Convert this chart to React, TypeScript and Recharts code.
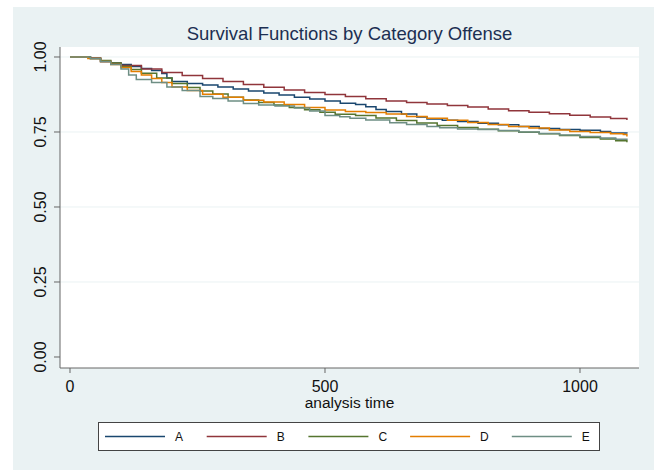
import React from 'react';
import { LineChart, Line, XAxis, YAxis, CartesianGrid } from 'recharts';

// ---- data ----
const seriesNames = ['A', 'B', 'C', 'D', 'E'];
const seriesColors = ['#1a476f', '#90353b', '#55752f', '#e37e00', '#6e8e84'];

const timesA = [0, 40, 60, 80, 100, 120, 140, 160, 180, 190, 200, 230, 260, 290, 320, 350, 380, 410, 440, 470, 500, 530, 560, 580, 600, 620, 650, 680, 700, 730, 760, 800, 840, 880, 920, 960, 1000, 1040, 1060, 1092];
const survA = [1, 0.995, 0.985, 0.98, 0.975, 0.968, 0.962, 0.955, 0.945, 0.93, 0.918, 0.912, 0.907, 0.9, 0.893, 0.887, 0.88, 0.873, 0.866, 0.86, 0.853, 0.846, 0.842, 0.834, 0.825, 0.818, 0.81, 0.8, 0.793, 0.789, 0.785, 0.779, 0.774, 0.768, 0.762, 0.758, 0.756, 0.752, 0.747, 0.745];

const timesB = [0, 40, 60, 80, 100, 140, 180, 220, 260, 300, 340, 380, 420, 460, 500, 540, 580, 620, 660, 700, 740, 780, 820, 860, 900, 940, 980, 1020, 1060, 1092];
const survB = [1, 0.997, 0.985, 0.978, 0.972, 0.96, 0.948, 0.938, 0.928, 0.918, 0.908, 0.899, 0.89, 0.882, 0.875, 0.868, 0.861, 0.853, 0.848, 0.843, 0.838, 0.833, 0.827, 0.821, 0.816, 0.811, 0.806, 0.8, 0.795, 0.79];

const timesC = [0, 40, 60, 80, 100, 120, 140, 170, 200, 230, 255, 280, 310, 340, 370, 400, 430, 460, 490, 520, 560, 600, 640, 680, 720, 760, 800, 840, 880, 920, 960, 1000, 1040, 1070, 1092];
const survC = [1, 0.995, 0.988, 0.98, 0.968, 0.958, 0.946, 0.93, 0.912, 0.898, 0.887, 0.877, 0.866, 0.857, 0.848, 0.84, 0.832, 0.824, 0.816, 0.809, 0.805, 0.797, 0.788, 0.78, 0.772, 0.765, 0.759, 0.754, 0.749, 0.744, 0.738, 0.732, 0.727, 0.721, 0.716];

const timesD = [0, 35, 60, 80, 100, 120, 140, 160, 180, 200, 230, 260, 300, 340, 380, 420, 460, 500, 540, 580, 620, 660, 700, 740, 780, 820, 860, 900, 940, 980, 1020, 1060, 1085, 1092];
const survD = [1, 0.995, 0.985, 0.975, 0.965, 0.952, 0.94, 0.928, 0.915, 0.9, 0.888, 0.876, 0.866, 0.856, 0.85, 0.842, 0.832, 0.823, 0.818, 0.815, 0.81, 0.802, 0.796, 0.789, 0.782, 0.775, 0.768, 0.763, 0.757, 0.752, 0.748, 0.744, 0.742, 0.735];

const timesE = [0, 40, 60, 80, 100, 115, 130, 160, 190, 220, 255, 280, 310, 340, 370, 402, 440, 470, 500, 529, 549, 580, 627, 660, 700, 725, 760, 800, 840, 880, 920, 960, 1000, 1040, 1070, 1092];
const survE = [1, 0.995, 0.985, 0.975, 0.96, 0.94, 0.925, 0.915, 0.9, 0.888, 0.868, 0.862, 0.853, 0.845, 0.84, 0.837, 0.83, 0.82, 0.805, 0.801, 0.796, 0.79, 0.781, 0.775, 0.768, 0.764, 0.76, 0.758, 0.755, 0.75, 0.745, 0.74, 0.735, 0.73, 0.726, 0.723];

const xTicks = [0, 500, 1000];
const yTicks = [0, 0.25, 0.5, 0.75, 1];
const yTickLabels = ['0.00', '0.25', '0.50', '0.75', '1.00'];
const gridValues = [0.25, 0.5, 0.75, 1];

const titleText = 'Survival Functions by Category Offense';
const xTitle = 'analysis time';

const allTimes = [timesA, timesB, timesC, timesD, timesE];
const allSurv = [survA, survB, survC, survD, survE];
const seriesData = allTimes.map((ts, k) => ts.map((t, i) => ({ t, s: allSurv[k][i] })));

const FONT = '"Liberation Sans", Arial, Helvetica, sans-serif';

const YTick = (props: any) => {
  const { x, y, payload } = props;
  const idx = yTicks.indexOf(payload.value);
  const label = idx >= 0 ? yTickLabels[idx] : String(payload.value);
  return (
    <text
      transform={`translate(${x - 6}, ${y}) rotate(-90)`}
      textAnchor="middle"
      fontSize={16}
      fontFamily={FONT}
      fill="#111"
    >
      {label}
    </text>
  );
};

const XTick = (props: any) => {
  const { x, y, payload } = props;
  return (
    <text x={x} y={y + 17} textAnchor="middle" fontSize={16} fontFamily={FONT} fill="#111">
      {payload.value}
    </text>
  );
};

const XTitle = (props: any) => {
  const vb = props.viewBox || {};
  return (
    <text
      x={vb.x + vb.width / 2}
      y={vb.y + 40}
      textAnchor="middle"
      fontSize={15.5}
      fontFamily={FONT}
      fill="#111"
    >
      {xTitle}
    </text>
  );
};

export default function App() {
  return (
    <div style={{ position: 'fixed', left: 0, top: 0, width: 654, height: 470, background: '#fff', overflow: 'hidden' }}>
      <div style={{ position: 'absolute', left: 13, top: 7, width: 641, height: 463, background: '#eaf2f3' }} />
      <div
        style={{
          position: 'absolute',
          left: 60,
          width: 579,
          top: 24,
          textAlign: 'center',
          fontFamily: FONT,
          fontSize: 18.5,
          lineHeight: '20px',
          color: '#1c2f52',
          whiteSpace: 'nowrap',
        }}
      >
        {titleText}
      </div>
      <div style={{ position: 'absolute', left: 0, top: 0 }}>
        <LineChart width={654} height={470} margin={{ top: 47, right: 15, left: 0, bottom: 72 }}>
          <CartesianGrid
            vertical={false}
            horizontalValues={gridValues}
            stroke="#eaf2f3"
            strokeWidth={1}
            fill="#ffffff"
            fillOpacity={1}
          />
          <XAxis
            type="number"
            dataKey="t"
            domain={[-19.6, 1115.7]}
            allowDataOverflow
            ticks={xTicks}
            height={30}
            tickSize={5}
            axisLine={{ stroke: '#666', strokeWidth: 1 }}
            tickLine={{ stroke: '#666', strokeWidth: 1 }}
            tick={<XTick />}
            label={<XTitle />}
          />
          <YAxis
            type="number"
            domain={[-0.0367, 1.0333]}
            allowDataOverflow
            ticks={yTicks}
            width={60}
            tickSize={6}
            axisLine={{ stroke: '#666', strokeWidth: 1 }}
            tickLine={{ stroke: '#666', strokeWidth: 1 }}
            tick={<YTick />}
          />
          {seriesData.map((d, k) => (
            <Line
              key={seriesNames[k]}
              data={d}
              dataKey="s"
              name={seriesNames[k]}
              type="stepAfter"
              stroke={seriesColors[k]}
              strokeWidth={1.5}
              dot={false}
              activeDot={false}
              isAnimationActive={false}
            />
          ))}
        </LineChart>
      </div>
      <div
        style={{
          position: 'absolute',
          left: 98,
          top: 422,
          width: 502,
          height: 29,
          boxSizing: 'border-box',
          border: '1px solid #444',
          background: '#fff',
        }}
      >
        <svg width={500} height={27} style={{ display: 'block' }}>
          {seriesNames.map((n, i) => {
            const x1 = 6 + i * 101.7;
            return (
              <g key={n}>
                <line x1={x1} x2={x1 + 60} y1={13.5} y2={13.5} stroke={seriesColors[i]} strokeWidth={1.5} />
                <text x={x1 + 70} y={18} fontSize={12} fontFamily={FONT} fill="#111">
                  {n}
                </text>
              </g>
            );
          })}
        </svg>
      </div>
    </div>
  );
}
